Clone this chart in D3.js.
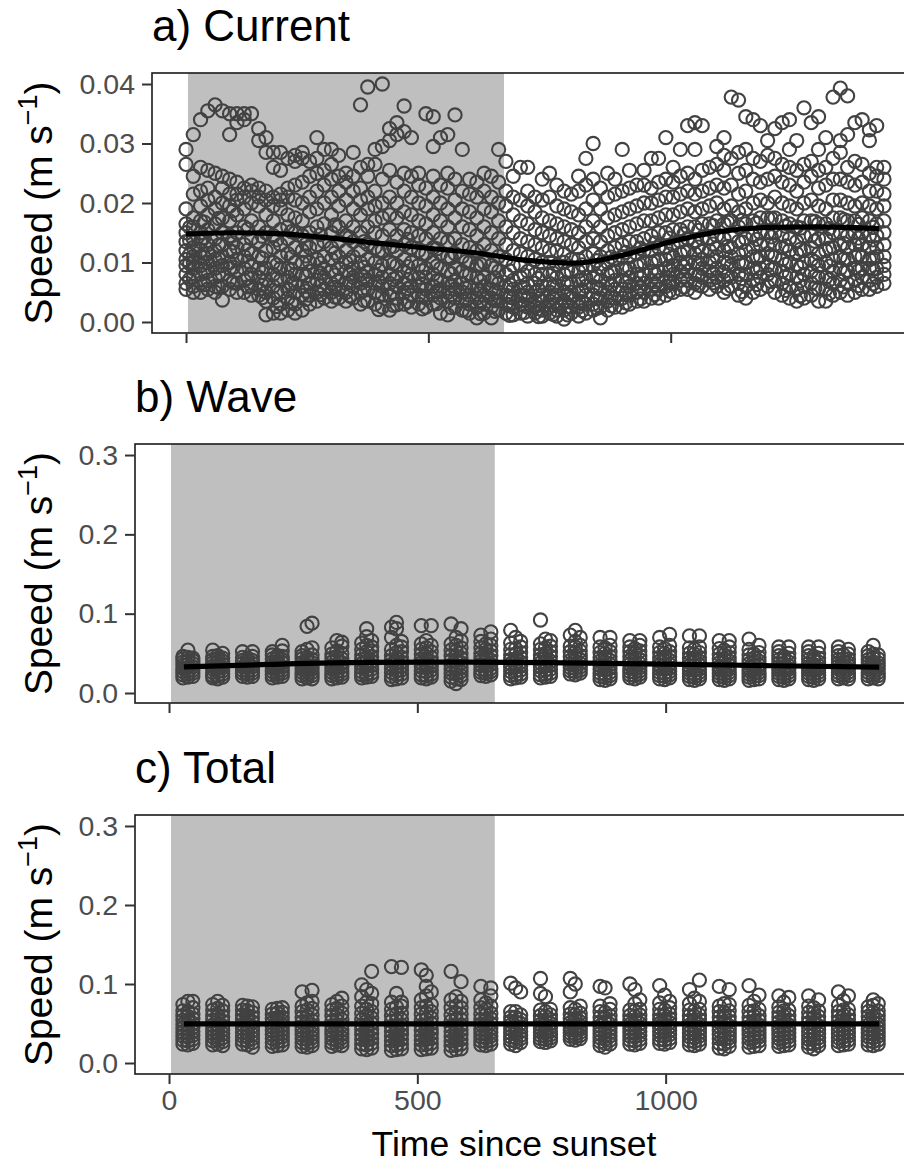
<!DOCTYPE html>
<html>
<head>
<meta charset="utf-8">
<script src="https://cdn.jsdelivr.net/npm/d3@7"></script>
<style>
  html, body { margin: 0; padding: 0; background: #fff; }
  svg { display: block; font-family: "Liberation Sans", Arial, Helvetica, sans-serif; }
</style>
</head>
<body>
<svg id="chart" width="904" height="1166"></svg>
<script>
// ---- data (speeds in mm/s; converted to m/s when plotted) ----

// a) Current: sampling times (min since sunset) and speeds observed at each time
const currentTimes = [0,15,30,45,60,75,90,105,120,135,150,165,180,195,210,225,240,255,270,285,300,315,330,345,360,375,390,405,420,435,450,465,480,495,510,525,540,555,570,585,600,615,630,645,660,675,690,705,720,735,750,765,780,795,810,825,840,855,870,885,900,915,930,945,960,975,990,1005,1020,1035,1050,1065,1080,1095,1110,1125,1140,1155,1170,1185,1200,1215,1230,1245,1260,1275,1290,1305,1320,1335,1350,1365,1380,1395,1410,1425,1440];
const currentSpeeds = [
  [5.5,6.5,8,9.5,10.5,12,13.5,15,16.5,19,26.5,29],
  [5,6,7.5,9,10,11,12.5,14,16,17.5,21.5,24.5,31.5],
  [5,6.5,8,9.5,11,12,13.5,15,17,19.5,22,26,34],
  [5.5,7,8.5,10,11.5,13,15.5,18,20.5,22.5,25.5,35.5],
  [5,6,7.5,9,10.5,12,14,16.5,19,21,25,36.5],
  [3.7,6,8,9.5,11,13,15,17.5,20,22.5,24.5,35.5],
  [5.5,7,9,10,12,14.5,17,19.5,21.5,24,31.5,35],
  [5,6.5,8.5,10.5,12.5,15,18,20.5,21.5,23.5,35,33.5],
  [5,7,9,11,13,16,19,21,22.5,35,34],
  [4.5,6,8,9.5,11.5,14,17,20,22,23,35],
  [4.5,5.5,7.5,9,11,13.5,16,19.5,21,22.5,32.5,30.5],
  [1.2,3.5,5,7,9,12,15,18,20.5,22,28.5,31],
  [1.5,4,6,8,10,12.5,14.5,17,19.5,21,28.5,26],
  [1.5,3,5,7,9,11,13,15.5,19,20.5,21.5,28.5,25.5],
  [2,4,5.5,7.5,9,11.5,14,16,18,21,22.5,27.5],
  [1.5,3,5,6.5,8,10,12.5,15,17.5,20.5,23,28,27],
  [2,4.5,6,8,10,12,14.5,17,20,23.5,27.5,28.5],
  [3,4.5,6.5,8.5,10,12.5,15,18.5,21,24.5,27],
  [3.5,5,7,8.5,10.5,13,16,19,22,25,27.5,31],
  [4,5.5,7.5,9,11,13.5,16.5,20,23,25.5,29],
  [3.5,5,6.5,8.5,10.5,12.5,15,18,21,24,26.5,29],
  [4,5.5,7,9,11,13.5,16,19.5,22,24.5,28],
  [3.5,5,6.5,8.5,10,12,14.5,17,20.5,23.5,25],
  [4,6,7.5,9,11,13.5,16,19,22,24.5,28.5],
  [3,5,6.5,8,10,12,15,18,20.5,22.5,26,36.5],
  [3.5,5.5,7,8.5,10.5,13,16,19,21,24.5,26.5,39.5],
  [3,5,6.5,8,10,12.5,15,17,19.5,22,26.5,29],
  [2.5,4.5,6,7.5,9.5,12,14.5,17.5,20,24,29.5,40],
  [2,4.5,6.5,8,10,12.5,15.5,18,21,25.5,30.5,32.5],
  [2.9,4,6,7.5,9.5,12,14.5,17.5,20,23.5,33.5,31.5],
  [3,5,6.5,8.5,10.5,13,15.5,18.5,22,25,32,36.3],
  [2.5,4.5,6,8,10,12.5,15,18,21,24.5,31],
  [3,4.5,6,7.5,9.5,12,14.5,17,20,23,25],
  [2.5,4,5.5,7.5,9,11.5,14,16.5,19.5,22.5,35],
  [3,4.5,6,8,10,12.5,15,18,21,24.5,29.5,34.5],
  [1.5,4,5.5,7,9,11.5,14,17,20,23,31],
  [1.2,3.5,5,6.5,8.5,11,13.5,16,19,22.5,25,31.5],
  [2.5,4,5.5,7,9,11.5,14,17.5,20.5,24,34.8],
  [2,3.5,5,6.5,8.5,11,13,16,19,22,29],
  [1.5,3,4.5,6,8,10,12.5,15.5,18.5,21.5,24],
  [0.7,2.5,4,5.5,7.5,9.5,12,14.5,17.5,21,23.5],
  [1.5,3,4.5,6,7.5,10,13,16,19,22,25],
  [0.7,2.5,4,5.5,7,9.5,12,15,18.5,21,24.5],
  [2,3.5,5,6.5,8.5,11,14,17,20,23.5,29],
  [1.5,3,4.5,6,8,10.5,13,16,19.5,22,27],
  [1.2,2.5,4,5.5,7,9.5,12,15,18,21,24.5],
  [1.5,3,4.5,6,7.5,9.5,11.5,14,17,20.5,26],
  [1,2.5,4,5,6.5,8.5,11,13.5,16.5,19.5,22,26],
  [1.5,2.5,3.5,5,6.5,8,10.5,13,15.5,18.5,21],
  [1,2,3.5,4.5,6,8,10,12.5,15,17.5,20.5,24],
  [1.5,2.5,3.5,5,6.5,8,10,12,14.5,17,21,25],
  [1,2,3,4.5,6,7.5,9.5,12,14,16.5,19.5,23],
  [0.5,2,3.5,5,6.5,8,10,11.5,13.5,16,19,22],
  [1.5,2.5,4,5,6.5,8.5,10.5,13,15.5,18.5,21.5],
  [1,2.5,3.5,5,7,8.5,10.5,12.5,15,18,22,24.5],
  [1.5,3,4.5,6,7.5,9,11,13.5,16,19,23,27.5],
  [2,3,4.5,6,7.5,9.5,11.5,14,17,20.5,24,30],
  [0.7,2.5,4,5.5,7,9,11,13.5,16,19,22.5],
  [2,3.5,5,6.5,8,10,12,14.5,17.5,21,25],
  [2.5,4,5.5,7,8.5,10.5,12.5,15,18,21.5,24],
  [2.5,4,5.5,7,9,11,13,15.5,18.5,22,29],
  [3,4.5,6,7.5,9,11,13.5,16,19,22.5,25.5],
  [3.5,5,6.5,8,9.5,11.5,13.5,16.5,19.5,23],
  [3.5,5,6.5,8,10,12,14,17,20,23,25.5],
  [4,5.5,7,8.5,10,12,14.5,17,20,22.5,27.5],
  [4,5.5,7,8.5,10.5,12.5,15,17.5,20.5,23.5,27.5],
  [4.5,6,7.5,9,10.5,12.5,15,18,21,24,31],
  [5,6.5,8,9.5,11,13,15.5,18,21,23.5,26],
  [5.5,7,8.5,10,11.5,13.5,15.5,18.5,21.5,24.5,29],
  [5.5,7,8.5,10,12,14,16,19,22,25,33],
  [5,6.5,8,10,11.5,13.5,16,18.5,21.5,24,29,33.5],
  [6,7.5,9,10.5,12,14,16.5,19,22,25.5,33],
  [5.5,7,8.5,10,12,14,16.5,19.5,22.5,26],
  [6,7.5,9,11,12.5,14.5,17,20,23,26.5,29.5],
  [5,7,8.5,10,12,14,16.5,19,22.5,25.5,28,31],
  [6,7.5,9.5,11,12.5,14.5,17,19.5,23,27.5,37.8],
  [4.5,6.5,8,10,11.5,13.5,16,18.5,21.5,25,28.5,37.3],
  [4,6,8,10,12,14,16.5,19,22,25.5,29,34.5],
  [5,7,9,11,12.5,14.5,17,20,24,27.5,34],
  [5.5,7.5,9,11,13,15,17.5,20.5,23.5,27,33],
  [6,8,9.5,11.5,13,15,17.5,20,24,28,30.5],
  [5,7,9,11,13,15,17.5,21,24.5,27.5,32.5],
  [4.5,6.5,8.5,10.5,12.5,14.5,17,20,23.5,26.5,33.5],
  [4,6,8,10,12,14,16.5,19.5,23,26,29,34],
  [3.5,5.5,7.5,9.5,11.5,13.5,16,19,22,25.5,30.5],
  [4,6,8,10,12,14.5,17,20,23.5,26.5,36],
  [4.5,6.5,8.5,10.5,12.5,14.5,17,20.5,24.5,27,33.5],
  [3.5,5.5,7.5,9.5,11.5,14,16.5,19.5,22.5,25.5,29,34.5],
  [3.5,5.5,7.5,10,12,14,16.5,19,23,26,31],
  [4.5,6.5,8.5,10.5,12.5,15,17.5,20.5,24,27.5,37.8],
  [5,7,9,11,13,15,17.5,20.5,24,28.5,30.5,39.3],
  [4.5,6.5,8.5,10.5,12.5,14.5,17,20,23.5,26,31.5,38],
  [5,7,9,11,13,15,17,19.5,23,27,33.5],
  [5.5,7.5,9,11,13,15,17.5,20,23.5,26.5,34],
  [5.5,7,9,10.5,12.5,14.5,17,19.5,22,25,30.5,32.3],
  [6,7.5,9,11,12.5,14.5,16.5,19,22,24.5,26,33],
  [6.5,8,9.5,11,13,15,17,19.5,21.5,24,26]
];
// a) Current: additional half-step samples in the slow, dense band
const currentMidTimes = [7.5,37.5,67.5,97.5,127.5,157.5,187.5,217.5,247.5,277.5,307.5,337.5,367.5,397.5,427.5,457.5,487.5,517.5,547.5,577.5,607.5,637.5,667.5,697.5,727.5,757.5,787.5,817.5,847.5,877.5,907.5,937.5,967.5,997.5,1027.5,1057.5,1087.5,1117.5,1147.5,1177.5,1207.5,1237.5,1267.5,1297.5,1327.5,1357.5,1387.5,1417.5];
const currentMidSpeeds = [
  [7.2,9.8,11.3,13.7,15.9],[6.3,8.7,10.9,14.2,16.8],[5.8,8.1,10.6,12.9,17.4],[6.6,9.2,11.8,13.3,18.7],
  [5.9,7.4,10.2,12.1,15.6],[4.1,6.2,8.3,10.7,14.4],[2.6,5.1,7.3,9.6,13.8],[3.2,6.4,8.8,10.9,15.2],
  [3.8,5.2,7.7,11.1,13.1],[4.6,6.1,8.2,9.9,14.7],[4.2,5.8,7.9,11.6,16.3],[4.4,6.7,8.1,10.4,14.2],
  [3.6,5.3,7.6,9.2,13.5],[2.1,4.4,6.8,8.7,11.9],[2.8,4.9,7.2,9.8,12.7],[3.4,5.6,7.1,9.3,13.9],
  [2.2,4.3,6.3,8.6,11.4],[3.1,5.2,6.9,9.4,12.3],[2.4,4.6,6.2,8.1,10.8],[1.9,3.8,5.7,7.8,10.2],
  [1.4,3.3,5.2,6.9,9.7],[1.8,3.6,4.9,7.4,9.1],[1.1,2.9,4.2,6.3,8.6],[1.6,2.7,4.4,5.8,7.9],
  [0.9,2.2,3.9,5.4,7.3],[1.3,2.8,4.1,5.9,8.2],[1.2,2.6,4.6,6.4,8.7],[1.9,3.4,5.3,7.1,9.6],
  [2.3,3.9,5.8,7.8,10.3],[2.7,4.1,6.2,8.4,10.9],[3.2,4.8,6.6,8.8,11.7],[3.9,5.7,7.4,9.6,12.4],
  [4.6,6.3,8.1,10.2,13.3],[5.2,6.8,8.7,11.4,14.1],[5.9,7.6,9.3,11.8,14.8],[6.2,7.9,9.8,12.6,15.4],
  [6.6,8.2,10.4,13.1,16.2],[5.6,7.8,9.9,12.7,16.8],[5.1,7.3,9.6,13.4,17.1],[6.3,8.4,10.7,13.9,16.6],
  [6.8,8.8,11.2,14.3,17.4],[5.3,7.6,9.7,12.8,16.1],[4.4,6.9,9.2,12.2,15.8],[5.7,7.7,10.1,13.6,16.9],
  [4.8,7.1,9.4,12.4,15.7],[5.9,8.3,10.6,13.2,17.2],[6.1,8.6,11.3,14.1,16.4],[6.4,8.9,10.8,13.8,15.9]
];

// b) Wave and c) Total: hourly bursts, three sampling times per burst
const burstTimes = [28,38,48, 88,98,108, 148,158,168, 208,218,228, 268,278,288, 328,338,348,
  388,398,408, 448,458,468, 508,518,528, 568,578,588, 628,638,648, 688,698,708,
  748,758,768, 808,818,828, 868,878,888, 928,938,948, 988,998,1008, 1048,1058,1068,
  1108,1118,1128, 1168,1178,1188, 1228,1238,1248, 1288,1298,1308, 1348,1358,1368, 1408,1418,1428];

const waveSpeeds = [
  [19,23,27,31,35,39,43,46],[20,24,28,32,36,40,45,54],[21,25,29,33,37,41,44],
  [19,22,26,30,34,38,42,46,54],[18,22,27,31,35,39,43,47],[20,24,28,32,36,40,44,50],
  [21,25,29,33,37,41,45,52],[20,24,28,32,36,40,44],[21,25,29,33,37,41,46,52],
  [19,23,27,31,35,39,43,48,52],[20,24,28,32,36,40,44,47],[21,25,29,33,38,42,46,53,60],
  [18,22,26,30,34,38,43,47,52],[19,23,27,31,35,40,45,55,84],[18,22,26,30,34,38,42,48,57,88],
  [18,22,26,30,34,39,44,49,57],[19,23,27,31,36,41,46,53,66],[20,24,28,33,38,43,50,59,64],
  [19,23,27,32,37,42,48,55,63],[20,24,29,34,39,45,52,60,71,81],[21,25,30,35,40,46,53,58,66],
  [17,21,26,31,36,41,47,55,70,83],[18,23,28,33,38,44,51,60,81,89],[19,24,29,34,39,45,52,58,65],
  [19,23,28,33,38,43,49,55,62,85],[18,22,27,32,37,43,50,57,66],[20,24,29,34,39,45,52,60,85],
  [15,20,25,30,35,41,47,54,62,87],[12,18,24,29,34,40,46,53,60,70],[17,22,27,32,38,44,50,57,66,81],
  [22,26,30,35,40,45,50,57,65,73],[21,25,29,34,39,44,49,55,62],[23,27,31,36,41,47,53,60,68,77],
  [18,22,27,32,37,42,48,55,63,79],[19,23,28,33,38,43,49,56,70],[20,24,29,34,39,45,51,58,65],
  [19,23,28,33,38,43,48,55,62,92],[20,24,29,34,39,44,50,57,68],[21,25,30,35,40,46,52,59,66],
  [24,28,32,36,41,46,52,59,73],[23,27,31,35,40,45,51,58,65,79],[25,29,33,37,42,47,53,60,70],
  [17,21,25,30,35,40,45,51,58,70],[16,20,24,29,34,39,44,50,57],[18,22,26,31,36,41,46,52,60,70],
  [19,23,27,31,36,41,46,52,58,66],[18,22,26,30,35,40,45,50,56],[20,24,28,32,37,42,47,53,60,66],
  [18,22,26,30,35,40,45,51,58,70],[17,21,25,30,35,40,45,50,56],[19,23,27,31,36,41,46,52,60,74],
  [17,21,25,29,34,39,44,50,57,72],[16,20,24,29,34,39,44,49,55],[18,22,26,30,35,40,45,51,58,72],
  [17,21,25,29,33,38,43,49,56,66],[16,20,24,28,33,38,43,48,54],[18,22,26,30,35,40,45,51,58,66],
  [16,20,24,28,32,37,42,48,55,68],[17,21,25,29,34,39,44,49],[18,22,26,30,35,40,45,51,60],
  [17,21,25,29,33,37,42,47,52,58],[16,20,24,28,32,37,42,46],[18,22,26,30,34,39,44,50,58],
  [17,21,25,29,33,37,42,47,52,58],[16,20,24,28,32,36,41,46],[18,22,26,30,34,39,44,50,58],
  [18,22,26,30,34,38,42,47,52,58],[19,23,27,31,35,39,43,48],[18,22,26,30,34,38,43,49,55],
  [18,22,26,30,34,38,42,47,52],[19,23,27,31,35,39,44,49,60],[18,22,26,30,34,38,43,48]
];

const totalSpeeds = [
  [24,29,34,39,44,49,54,60,66,74],[23,28,33,38,43,48,53,59,65,78],[25,30,35,40,45,50,56,62,70,78],
  [23,28,33,38,43,48,54,60,67,74],[24,29,34,39,44,49,55,61,69,78],[22,27,32,37,42,47,53,59,66,73],
  [24,29,34,39,44,49,55,61,67,73],[23,28,33,38,43,48,54,60,66,72],[20,26,31,36,41,46,52,58,64,71],
  [21,26,31,36,41,46,51,56,62,68],[22,27,32,37,42,47,52,57,63,69],[23,28,33,38,43,48,53,58,64,70],
  [21,26,31,36,41,46,52,58,65,72,90],[20,25,30,35,40,46,52,59,67,76],[22,27,32,37,42,48,54,61,69,78,92],
  [21,26,31,36,41,47,53,60,67,74],[23,28,33,38,43,48,54,61,69,78],[22,27,32,37,42,48,55,63,72,82],
  [18,24,30,36,42,48,55,63,72,84,99],[17,23,29,35,41,47,53,60,68,77,93],[19,25,31,37,43,50,57,65,75,88,116],
  [16,22,28,34,40,46,53,60,68,77,122],[17,23,29,35,41,47,54,62,71,88],[18,24,30,36,42,48,55,63,72,77,121],
  [17,23,29,35,41,47,54,62,70,80,118],[18,24,30,36,42,48,55,63,72,85,97,111],[19,25,31,37,43,50,57,65,74,90],
  [16,22,28,34,40,46,53,61,70,80,116],[17,23,29,35,41,48,55,63,72,84],[18,24,30,36,42,48,55,62,70,78,103],
  [23,28,33,38,43,49,55,62,70,80,97],[22,27,32,37,42,48,54,61,68,76],[24,29,34,39,44,50,56,63,72,85,95],
  [24,29,33,38,43,48,53,58,65,101],[22,27,32,37,42,47,52,58,65,95],[26,31,35,40,45,50,55,61,90],
  [27,31,35,39,44,49,54,60,67,88,107],[26,30,34,38,43,48,53,59,65,84],[28,32,36,40,45,50,55,61,68],
  [30,34,38,42,46,51,56,62,70,90,107],[29,33,37,41,45,50,55,61,68,100],[31,35,39,43,47,52,57,63,72],
  [22,27,32,37,42,47,52,58,65,72,97],[20,25,30,35,40,45,51,57,64,95],[24,29,34,39,44,49,54,60,68,75],
  [24,29,34,39,44,49,54,60,67,100],[23,28,33,38,43,48,53,59,66,75,93],[25,30,35,40,45,50,55,61,68,80],
  [25,30,35,40,45,50,55,61,68,76,98],[24,29,34,39,44,49,54,60,67,86],[26,31,36,41,46,51,56,62,70,78],
  [23,28,33,38,43,48,54,60,67,75,93],[22,27,32,37,42,47,53,59,66,82],[24,29,34,39,44,49,55,61,68,78,105],
  [19,25,31,36,41,46,52,58,65,72,97],[18,24,30,35,40,45,51,57,64,75],[21,27,32,37,42,47,53,59,66,74,93],
  [20,26,31,36,41,46,52,58,65,73,98],[21,27,32,37,42,47,53,59,66,78],[22,28,33,38,43,48,54,60,68,86],
  [21,26,31,36,41,46,52,58,64,71,85],[22,27,32,37,42,47,53,59,66,77],[23,28,33,38,43,48,54,60,67,83],
  [20,25,30,35,40,45,51,57,64,72,85],[18,24,30,35,40,45,51,57,63,70],[22,27,32,37,42,47,53,59,66,80],
  [22,27,32,37,42,47,53,59,65,73,90],[23,28,33,38,43,48,54,60,67,79],[24,29,34,39,44,49,55,61,68,85],
  [23,28,33,38,43,48,53,59,65,71],[22,27,32,37,42,47,52,58,64,73,80],[24,29,34,39,44,49,54,60,66,75]
];

// smoothed trends (mm/s)
const currentTrendTimes = [0,100,200,300,400,500,600,700,800,900,1000,1100,1200,1300,1430];
const currentTrendSpeeds = [14.8,15.0,14.8,14.1,13.2,12.4,11.6,10.4,9.9,11.2,13.5,15.2,15.9,16.0,15.7];
const waveTrendTimes = [30,200,400,600,800,1000,1200,1430];
const waveTrendSpeeds = [33,36,38.5,39,38,36.5,34.5,32.5];
const totalTrendTimes = [30,400,800,1200,1430];
const totalTrendSpeeds = [49.5,49.6,49.6,49.5,49.5];

// night period (min since sunset)
const nightSpan = [4, 656];

// tick values
const xTicks = [0, 500, 1000];
const yTicksCurrent = [0, 0.01, 0.02, 0.03, 0.04];
const yTicksSpeed = [0, 0.1, 0.2, 0.3];

// ---- drawing ----
const svg = d3.select("#chart");
const MM = 1000; // mm/s -> m/s

const panels = [
  { title: "a) Current",
    times: currentTimes.concat(currentMidTimes), speeds: currentSpeeds.concat(currentMidSpeeds),
    trendT: currentTrendTimes, trendV: currentTrendSpeeds,
    left: 152, top: 73, bottom: 333, xDomain: [-70.2, 1485.5], yDomain: [-0.00185, 0.04185],
    yTicks: yTicksCurrent, yFmt: d3.format(".2f"), titleY: 41, xLabels: false },
  { title: "b) Wave", times: burstTimes, speeds: waveSpeeds,
    trendT: waveTrendTimes, trendV: waveTrendSpeeds,
    left: 135, top: 444, bottom: 703, xDomain: [-68.5, 1484], yDomain: [-0.0126, 0.3139],
    yTicks: yTicksSpeed, yFmt: d3.format(".1f"), titleY: 412, xLabels: false },
  { title: "c) Total", times: burstTimes, speeds: totalSpeeds,
    trendT: totalTrendTimes, trendV: totalTrendSpeeds,
    left: 135, top: 815, bottom: 1074, xDomain: [-68.5, 1484], yDomain: [-0.0139, 0.3139],
    yTicks: yTicksSpeed, yFmt: d3.format(".1f"), titleY: 783, xLabels: true }
];
const RIGHT = 906;

panels.forEach(p => {
  const x = d3.scaleLinear().domain(p.xDomain).range([p.left, RIGHT]);
  const y = d3.scaleLinear().domain(p.yDomain).range([p.bottom, p.top]);
  const g = svg.append("g");

  // night shading
  g.append("rect")
    .attr("x", x(nightSpan[0])).attr("y", p.top)
    .attr("width", x(nightSpan[1]) - x(nightSpan[0]))
    .attr("height", p.bottom - p.top)
    .attr("fill", "#bfbfbf");

  // observations
  const pts = [];
  p.times.forEach((t, i) => p.speeds[i].forEach(v => pts.push([t, v / MM])));
  g.append("g").selectAll("circle").data(pts).join("circle")
    .attr("cx", d => x(d[0])).attr("cy", d => y(d[1]))
    .attr("r", 6.6)
    .attr("fill", "none").attr("stroke", "#424242").attr("stroke-width", 2.1);

  // trend
  const line = d3.line().x(d => x(d[0])).y(d => y(d[1])).curve(d3.curveMonotoneX);
  g.append("path")
    .datum(p.trendT.map((t, i) => [t, p.trendV[i] / MM]))
    .attr("d", line)
    .attr("fill", "none").attr("stroke", "#000").attr("stroke-width", 5.2)
    .attr("stroke-linecap", "butt");

  // panel frame
  g.append("rect")
    .attr("x", p.left).attr("y", p.top)
    .attr("width", RIGHT - p.left).attr("height", p.bottom - p.top)
    .attr("fill", "none").attr("stroke", "#1a1a1a").attr("stroke-width", 1.6);

  // y axis
  const ya = g.append("g").attr("transform", `translate(${p.left},0)`)
    .call(d3.axisLeft(y).tickValues(p.yTicks).tickFormat(p.yFmt).tickSize(10).tickPadding(7));
  ya.select(".domain").remove();
  ya.selectAll(".tick line").attr("stroke", "#333").attr("stroke-width", 2);
  ya.selectAll(".tick text").attr("fill", "#4d4d4d").attr("font-size", 28.5)
    .attr("font-family", "Liberation Sans, Arial, sans-serif");

  // x axis
  const xa = g.append("g").attr("transform", `translate(0,${p.bottom})`)
    .call(d3.axisBottom(x).tickValues(xTicks).tickSize(10).tickPadding(6)
      .tickFormat(p.xLabels ? d3.format("d") : () => ""));
  xa.select(".domain").remove();
  xa.selectAll(".tick line").attr("stroke", "#333").attr("stroke-width", 2);
  xa.selectAll(".tick text").attr("fill", "#4d4d4d").attr("font-size", 28.5)
    .attr("font-family", "Liberation Sans, Arial, sans-serif");

  // panel title
  svg.append("text")
    .attr("x", p.left).attr("y", p.titleY)
    .attr("font-size", 44).attr("fill", "#000")
    .text(p.title);

  // y axis title
  const yt = svg.append("text")
    .attr("transform", `translate(52,${(p.top + p.bottom) / 2}) rotate(-90)`)
    .attr("text-anchor", "middle").attr("font-size", 39).attr("fill", "#000");
  yt.append("tspan").text("Speed (m s");
  yt.append("tspan").text("\u22121").attr("font-size", 27).attr("dy", -15);
  yt.append("tspan").text(")").attr("dy", 15);
});

// x axis title
svg.append("text")
  .attr("x", 514).attr("y", 1156)
  .attr("text-anchor", "middle").attr("font-size", 35.5).attr("fill", "#000")
  .text("Time since sunset");
</script>
</body>
</html>
